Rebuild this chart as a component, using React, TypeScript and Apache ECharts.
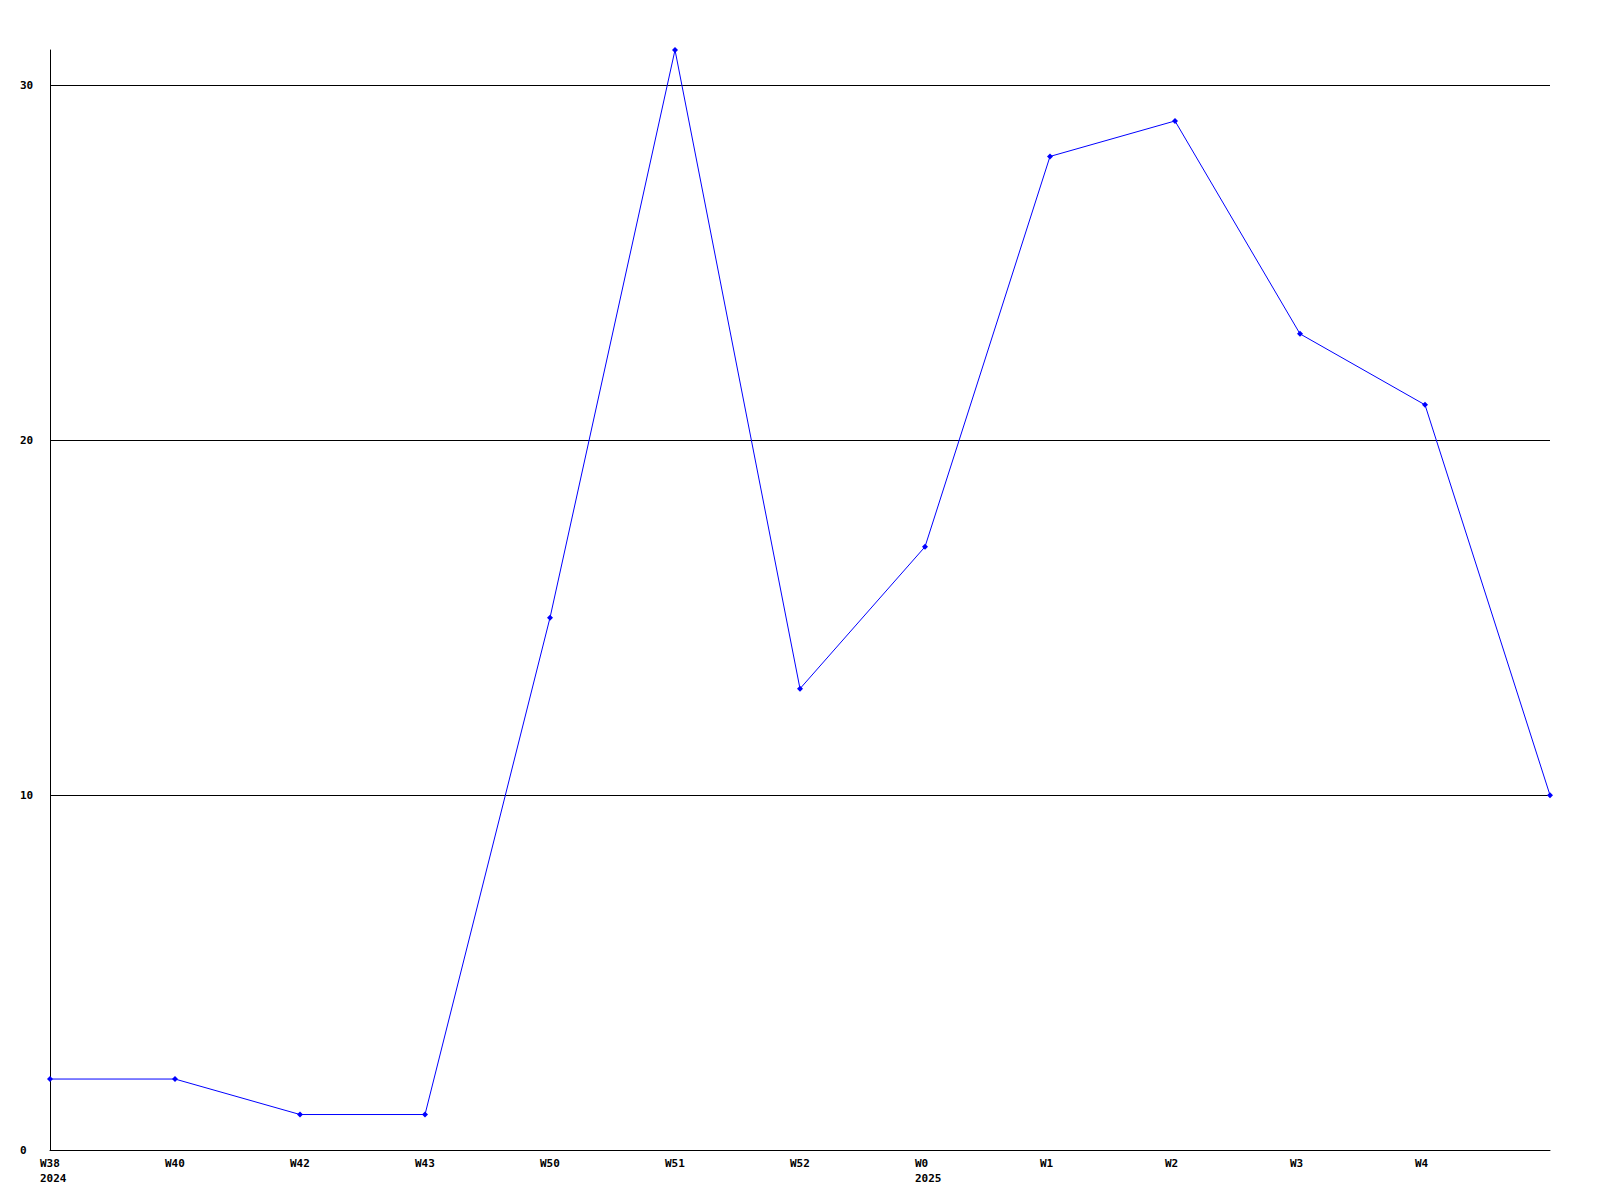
import React, { useEffect, useRef } from "react";
import * as echarts from "echarts";

const weeks = ["W38\n2024", "W40", "W42", "W43", "W50", "W51", "W52", "W0\n2025", "W1", "W2", "W3", "W4", ""];
const values = [2, 2, 1, 1, 15, 31, 13, 17, 28, 29, 23, 21, 10];
const yTicks = [0, 10, 20, 30];

export default function App() {
  const ref = useRef<HTMLDivElement>(null);
  useEffect(() => {
    if (!ref.current) return;
    const chart = echarts.init(ref.current, null, { renderer: "svg" });
    const font = "'DejaVu Sans Mono', monospace";
    chart.setOption({
      animation: false,
      backgroundColor: "#ffffff",
      grid: { left: 50, right: 50, top: 50, bottom: 50, containLabel: false },
      xAxis: {
        type: "category",
        data: weeks,
        boundaryGap: false,
        axisLine: { show: true, lineStyle: { color: "#000", width: 1 } },
        axisTick: { show: false },
        splitLine: { show: false },
        axisLabel: {
          interval: 0,
          align: "left",
          padding: [0, 0, 0, -10],
          margin: 6,
          fontFamily: font,
          fontWeight: "bold",
          fontSize: 11,
          lineHeight: 15,
          color: "#000",
        },
      },
      yAxis: {
        type: "value",
        min: 0,
        max: 31,
        interval: 10,
        axisLine: { show: true, lineStyle: { color: "#000", width: 1 } },
        axisTick: { show: false },
        splitLine: { show: true, showMaxLine: false, lineStyle: { color: "#000", width: 1 } },
        axisLabel: {
          margin: 30,
          align: "left",
          fontFamily: font,
          fontWeight: "bold",
          fontSize: 11,
          color: "#000",
          showMaxLabel: false,
          formatter: (v: number) => (yTicks.includes(v) ? String(v) : ""),
        },
      },
      series: [
        {
          type: "line",
          data: values,
          symbol: "diamond",
          symbolSize: 6,
          showAllSymbol: true,
          lineStyle: { color: "#0000ff", width: 1 },
          itemStyle: { color: "#0000ff" },
        },
      ],
    });
    return () => chart.dispose();
  }, []);
  return (
    <div
      ref={ref}
      style={{ position: "fixed", left: 0, top: 0, width: 1600, height: 1200, background: "#fff" }}
    />
  );
}
